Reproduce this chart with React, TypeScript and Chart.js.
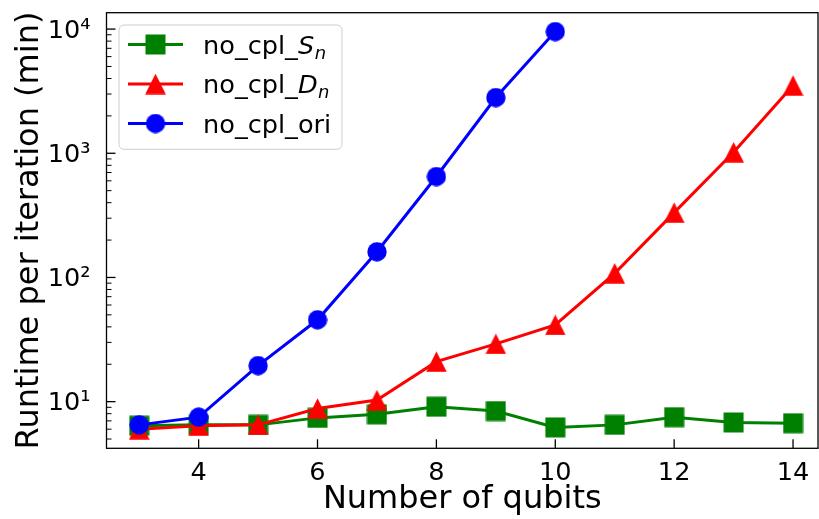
import React, { useEffect, useRef } from 'react';
import { Chart, registerables } from 'chart.js';

Chart.register(...registerables);

// ---- data ----
const qubitsS = [3, 4, 5, 6, 7, 8, 9, 10, 11, 12, 13, 14];
const runtimeS = [6.4, 6.5, 6.5, 7.4, 7.9, 9.1, 8.4, 6.2, 6.5, 7.5, 6.8, 6.7];
const qubitsD = [3, 4, 5, 6, 7, 8, 9, 10, 11, 12, 13, 14];
const runtimeD = [6.0, 6.4, 6.5, 8.8, 10.3, 21, 29.2, 41.5, 108, 333, 1020, 3515];
const qubitsOri = [3, 4, 5, 6, 7, 8, 9, 10];
const runtimeOri = [6.5, 7.5, 19.5, 45.6, 161, 650, 2810, 9550];

const xTickValues = [4, 6, 8, 10, 12, 14];
const yTickValues = [10, 100, 1000, 10000];
const yTickLabels = ['10¹', '10²', '10³', '10⁴'];
const xTitle = 'Number of qubits';
const yTitle = 'Runtime per iteration (min)';
const legendBase = ['no_cpl_', 'no_cpl_', 'no_cpl_ori'];
const legendItalic = ['S', 'D', ''];
const legendSub = ['n', 'n', ''];

const FONT = 'DejaVu Sans';
const GREEN = '#008000';
const RED = '#ff0000';
const BLUE = '#0000ff';

function makeMarker(shape: string, color: string, size: number): HTMLCanvasElement {
  const c = document.createElement('canvas');
  c.width = size;
  c.height = size;
  const g = c.getContext('2d')!;
  g.fillStyle = color;
  g.beginPath();
  if (shape === 'square') {
    g.rect(0.5, 0.5, size - 1, size - 1);
  } else if (shape === 'circle') {
    g.arc(size / 2, size / 2, size / 2 - 0.3, 0, Math.PI * 2);
  } else {
    g.moveTo(size / 2, 0.2);
    g.lineTo(size - 0.2, size - 0.2);
    g.lineTo(0.2, size - 0.2);
    g.closePath();
  }
  g.fill();
  return c;
}

export default function App() {
  const ref = useRef<HTMLCanvasElement | null>(null);

  useEffect(() => {
    if (!ref.current) return;
    const mS = makeMarker('square', GREEN, 21);
    const mD = makeMarker('triangle', RED, 21);
    const mO = makeMarker('circle', BLUE, 20);
    const markers = [mS, mD, mO];
    const colors = [GREEN, RED, BLUE];

    const framePlugin = {
      id: 'framePlugin',
      afterDraw(chart: any) {
        const { ctx, chartArea: a, scales } = chart;
        const xs = scales.x;
        const ys = scales.y;
        ctx.save();
        ctx.strokeStyle = '#000';
        const seg = (x1: number, y1: number, x2: number, y2: number) => {
          ctx.beginPath();
          ctx.moveTo(x1, y1);
          ctx.lineTo(x2, y2);
          ctx.stroke();
        };
        // major ticks, pointing inward
        ctx.lineWidth = 1.3;
        for (const v of xTickValues) {
          const px = xs.getPixelForValue(v);
          seg(px, a.bottom, px, a.bottom - 9);
        }
        for (const v of yTickValues) {
          const py = ys.getPixelForValue(v);
          seg(a.left, py, a.left + 9, py);
        }
        // minor ticks of the log axis
        ctx.lineWidth = 1;
        for (let d = 1; d <= 10000; d *= 10) {
          for (let k = 2; k <= 9; k++) {
            const v = k * d;
            if (v < ys.min || v > ys.max) continue;
            const py = ys.getPixelForValue(v);
            seg(a.left, py, a.left + 5, py);
          }
        }
        // frame
        ctx.lineWidth = 1.3;
        ctx.strokeRect(a.left, a.top, a.right - a.left, a.bottom - a.top);

        // legend
        const bx = a.left + 12.5;
        const by = a.top + 12.3;
        const bw = 223;
        const bh = 124.3;
        const r = 5;
        ctx.beginPath();
        ctx.moveTo(bx + r, by);
        ctx.arcTo(bx + bw, by, bx + bw, by + bh, r);
        ctx.arcTo(bx + bw, by + bh, bx, by + bh, r);
        ctx.arcTo(bx, by + bh, bx, by, r);
        ctx.arcTo(bx, by, bx + bw, by, r);
        ctx.closePath();
        ctx.fillStyle = 'rgba(255,255,255,0.8)';
        ctx.fill();
        ctx.strokeStyle = '#cccccc';
        ctx.lineWidth = 1;
        ctx.stroke();

        const rowY = [by + 19.5, by + 59, by + 98.5];
        for (let i = 0; i < 3; i++) {
          const cy = rowY[i];
          ctx.strokeStyle = colors[i];
          ctx.lineWidth = 3;
          seg(bx + 9, cy, bx + 64, cy);
          const m = markers[i];
          ctx.drawImage(m, bx + 36.5 - m.width / 2, cy - m.height / 2);
          ctx.fillStyle = '#000';
          ctx.textBaseline = 'alphabetic';
          ctx.textAlign = 'left';
          let tx = bx + 84;
          const base = cy + 9;
          ctx.font = `25.6px "${FONT}"`;
          ctx.fillText(legendBase[i], tx, base);
          tx += ctx.measureText(legendBase[i]).width;
          if (legendItalic[i]) {
            ctx.font = `italic 25.6px "${FONT}"`;
            ctx.fillText(legendItalic[i], tx, base);
            tx += ctx.measureText(legendItalic[i]).width + 0.5;
            ctx.font = `italic 18px "${FONT}"`;
            ctx.fillText(legendSub[i], tx, base + 5);
          }
        }
        ctx.restore();
      },
    };

    const toPts = (xs: number[], ys: number[]) => xs.map((x, i) => ({ x, y: ys[i] }));

    const chart = new Chart(ref.current, {
      type: 'line',
      data: {
        datasets: [
          {
            label: 'no_cpl_S_n',
            data: toPts(qubitsS, runtimeS),
            borderColor: GREEN,
            backgroundColor: GREEN,
            borderWidth: 3,
            pointStyle: mS as any,
            pointRadius: 10,
            order: 2,
            fill: false,
            tension: 0,
          },
          {
            label: 'no_cpl_D_n',
            data: toPts(qubitsD, runtimeD),
            borderColor: RED,
            backgroundColor: RED,
            borderWidth: 3,
            pointStyle: mD as any,
            pointRadius: 10,
            order: 1,
            fill: false,
            tension: 0,
          },
          {
            label: 'no_cpl_ori',
            data: toPts(qubitsOri, runtimeOri),
            borderColor: BLUE,
            backgroundColor: BLUE,
            borderWidth: 3,
            pointStyle: mO as any,
            pointRadius: 10,
            order: 0,
            fill: false,
            tension: 0,
          },
        ],
      },
      options: {
        animation: false,
        responsive: false,
        maintainAspectRatio: false,
        devicePixelRatio: 1,
        layout: { autoPadding: false, padding: { left: 0, right: 1, top: 12.7, bottom: 0 } },
        plugins: { legend: { display: false }, tooltip: { enabled: false } },
        scales: {
          x: {
            type: 'linear',
            min: 2.45,
            max: 14.42,
            grid: { display: false },
            border: { display: false },
            afterBuildTicks: (s: any) => {
              s.ticks = xTickValues.map((v) => ({ value: v }));
            },
            afterFit: (s: any) => {
              s.height = 70.7;
              s.paddingLeft = 0;
              s.paddingRight = 0;
              s.paddingTop = 0;
              s.paddingBottom = 0;
            },
            ticks: {
              font: { family: FONT, size: 25.6 },
              color: '#000',
              padding: 2,
              maxRotation: 0,
              autoSkip: false,
              callback: (v: any) => String(v),
            },
            title: {
              display: true,
              text: xTitle,
              font: { family: FONT, size: 32 },
              color: '#000',
              padding: { top: 1, bottom: 0 },
            },
          },
          y: {
            type: 'logarithmic',
            min: 4.21,
            max: 13550,
            grid: { display: false },
            border: { display: false },
            afterBuildTicks: (s: any) => {
              s.ticks = yTickValues.map((v) => ({ value: v, major: true }));
            },
            afterFit: (s: any) => {
              s.width = 106.5;
              s.paddingLeft = 0;
              s.paddingRight = 0;
              s.paddingTop = 0;
              s.paddingBottom = 0;
            },
            ticks: {
              font: { family: FONT, size: 25.6 },
              color: '#000',
              padding: 8,
              labelOffset: 2,
              autoSkip: false,
              callback: (_v: any, i: number) => yTickLabels[i],
            },
            title: {
              display: true,
              text: yTitle,
              font: { family: FONT, size: 32 },
              color: '#000',
              padding: { top: 10.8, bottom: 0 },
            },
          },
        },
      },
      plugins: [framePlugin],
    });
    return () => chart.destroy();
  }, []);

  return (
    <div style={{ position: 'absolute', left: 0, top: 0, width: 819, height: 519, background: '#fff' }}>
      <canvas ref={ref} width={819} height={519} style={{ display: 'block', width: 819, height: 519 }} />
    </div>
  );
}
